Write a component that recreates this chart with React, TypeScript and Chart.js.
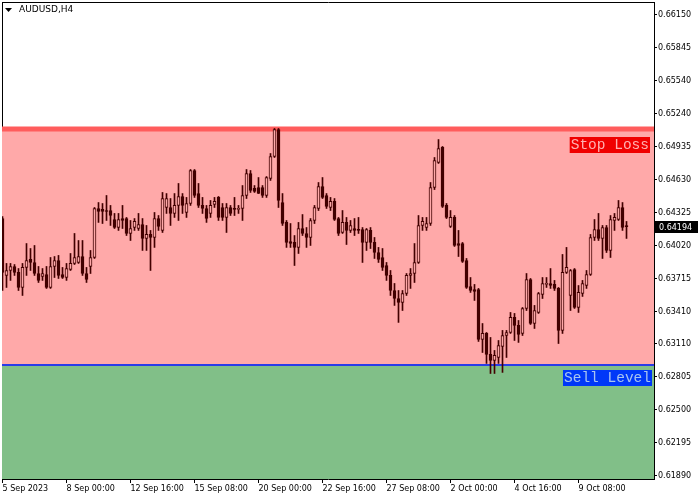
import React, { useEffect, useRef } from 'react';
import { Chart, registerables } from 'chart.js';

Chart.register(...registerables);

const SYMBOL = 'AUDUSD,H4';

const OPEN = [
  0.64269, 0.63743, 0.63789, 0.63826, 0.63771, 0.63632, 0.63817, 0.63891, 0.63863, 0.63761,
  0.63734, 0.63752, 0.63632, 0.63826, 0.63881, 0.63752, 0.63724, 0.63798, 0.63854, 0.63863,
  0.63918, 0.63761, 0.63826, 0.63909, 0.64362, 0.64353, 0.64343, 0.64343, 0.64260, 0.64186,
  0.64269, 0.64269, 0.64131, 0.64186, 0.64177, 0.64214, 0.64085, 0.64122, 0.64094, 0.64269,
  0.64159, 0.64371, 0.64371, 0.64316, 0.64390, 0.64473, 0.64325, 0.64408, 0.64713, 0.64500,
  0.64390, 0.64362, 0.64316, 0.64399, 0.64464, 0.64371, 0.64279, 0.64371, 0.64362, 0.64353,
  0.64362, 0.64482, 0.64685, 0.64547, 0.64556, 0.64556, 0.64482, 0.64639, 0.64842, 0.65092,
  0.64417, 0.64233, 0.64057, 0.64048, 0.64002, 0.64177, 0.64131, 0.64094, 0.64251, 0.64362,
  0.64565, 0.64482, 0.64371, 0.64427, 0.64269, 0.64140, 0.64233, 0.64159, 0.64177, 0.64168,
  0.64168, 0.64048, 0.64159, 0.64048, 0.63955, 0.63909, 0.63835, 0.63743, 0.63604, 0.63530,
  0.63493, 0.63576, 0.63743, 0.63761, 0.63863, 0.64205, 0.64186, 0.64223, 0.64556, 0.64787,
  0.64926, 0.64390, 0.64196, 0.64279, 0.64038, 0.64038, 0.63881, 0.63641, 0.63613, 0.63613,
  0.63151, 0.63207, 0.63013, 0.62957, 0.62985, 0.63087, 0.63188, 0.63216, 0.63355, 0.63281,
  0.63207, 0.63438, 0.63706, 0.63299, 0.63401, 0.63567, 0.63660, 0.63669, 0.63660, 0.63623,
  0.63235, 0.63771, 0.63558, 0.63798, 0.63447, 0.63576, 0.63650, 0.63752, 0.64094, 0.64168,
  0.64085, 0.64186, 0.63974, 0.64251, 0.64260, 0.64371, 0.64196,
];
const HIGH = [
  0.64288, 0.63854, 0.63854, 0.63844, 0.63807, 0.63854, 0.64038, 0.63992, 0.64020, 0.63826,
  0.63807, 0.63826, 0.63909, 0.63918, 0.63928, 0.63817, 0.63854, 0.63946, 0.64131, 0.64066,
  0.64066, 0.63817, 0.63974, 0.64371, 0.64417, 0.64408, 0.64482, 0.64390, 0.64316, 0.64316,
  0.64390, 0.64279, 0.64251, 0.64269, 0.64316, 0.64269, 0.64205, 0.64159, 0.64325, 0.64297,
  0.64510, 0.64500, 0.64454, 0.64500, 0.64593, 0.64500, 0.64464, 0.64722, 0.64722, 0.64593,
  0.64464, 0.64390, 0.64436, 0.64464, 0.64473, 0.64408, 0.64408, 0.64390, 0.64464, 0.64390,
  0.64574, 0.64722, 0.64713, 0.64574, 0.64648, 0.64574, 0.64657, 0.64870, 0.65101, 0.65101,
  0.64500, 0.64251, 0.64223, 0.64112, 0.64233, 0.64306, 0.64186, 0.64269, 0.64390, 0.64602,
  0.64648, 0.64500, 0.64464, 0.64454, 0.64279, 0.64343, 0.64279, 0.64251, 0.64269, 0.64279,
  0.64186, 0.64177, 0.64186, 0.64094, 0.64002, 0.63992, 0.63863, 0.63789, 0.63669, 0.63604,
  0.63604, 0.63761, 0.63807, 0.64038, 0.64297, 0.64279, 0.64279, 0.64602, 0.64833, 0.64999,
  0.64935, 0.64408, 0.64343, 0.64297, 0.64159, 0.64048, 0.63900, 0.63724, 0.63660, 0.63623,
  0.63299, 0.63216, 0.63170, 0.63050, 0.63142, 0.63235, 0.63235, 0.63401, 0.63392, 0.63327,
  0.63447, 0.63761, 0.63715, 0.63466, 0.63586, 0.63724, 0.63724, 0.63807, 0.63697, 0.63632,
  0.63937, 0.64002, 0.63798, 0.63807, 0.63650, 0.63697, 0.63789, 0.64122, 0.64260, 0.64316,
  0.64205, 0.64205, 0.64297, 0.64316, 0.64436, 0.64417, 0.64242,
];
const LOW = [
  0.63604, 0.63632, 0.63697, 0.63743, 0.63604, 0.63558, 0.63743, 0.63789, 0.63743, 0.63678,
  0.63697, 0.63623, 0.63623, 0.63724, 0.63715, 0.63715, 0.63697, 0.63789, 0.63844, 0.63854,
  0.63743, 0.63678, 0.63761, 0.63900, 0.64233, 0.64223, 0.64251, 0.64205, 0.64177, 0.64159,
  0.64177, 0.64112, 0.64066, 0.64159, 0.64159, 0.63974, 0.63974, 0.63789, 0.64002, 0.64159,
  0.64140, 0.64316, 0.64205, 0.64279, 0.64251, 0.64316, 0.64279, 0.64390, 0.64464, 0.64371,
  0.64316, 0.64233, 0.64279, 0.64371, 0.64251, 0.64251, 0.64140, 0.64297, 0.64297, 0.64316,
  0.64251, 0.64454, 0.64510, 0.64510, 0.64500, 0.64464, 0.64464, 0.64621, 0.64833, 0.64371,
  0.64205, 0.64002, 0.64002, 0.63835, 0.63946, 0.64112, 0.64002, 0.64020, 0.64223, 0.64343,
  0.64454, 0.64362, 0.64343, 0.64251, 0.64112, 0.64131, 0.64029, 0.64140, 0.64112, 0.64131,
  0.63863, 0.63974, 0.63992, 0.63900, 0.63863, 0.63789, 0.63697, 0.63558, 0.63466, 0.63309,
  0.63419, 0.63558, 0.63623, 0.63678, 0.63854, 0.64159, 0.64159, 0.64205, 0.64537, 0.64778,
  0.64371, 0.64269, 0.64186, 0.64011, 0.63918, 0.63863, 0.63623, 0.63586, 0.63512, 0.63133,
  0.63031, 0.62930, 0.62837, 0.62837, 0.62930, 0.62847, 0.62985, 0.63207, 0.63142, 0.63124,
  0.63188, 0.63419, 0.63290, 0.63253, 0.63392, 0.63530, 0.63632, 0.63623, 0.63604, 0.63114,
  0.63207, 0.63761, 0.63419, 0.63438, 0.63401, 0.63549, 0.63623, 0.63743, 0.64066, 0.64066,
  0.63900, 0.63955, 0.63909, 0.64159, 0.64251, 0.64159, 0.64085,
];
const CLOSE = [
  0.63771, 0.63789, 0.63826, 0.63771, 0.63632, 0.63817, 0.63881, 0.63863, 0.63761, 0.63697,
  0.63761, 0.63632, 0.63826, 0.63881, 0.63743, 0.63724, 0.63807, 0.63854, 0.63909, 0.63918,
  0.63761, 0.63706, 0.63909, 0.64362, 0.64334, 0.64334, 0.64334, 0.64297, 0.64186, 0.64260,
  0.64251, 0.64131, 0.64177, 0.64242, 0.64214, 0.64085, 0.64122, 0.64094, 0.64269, 0.64196,
  0.64454, 0.64454, 0.64316, 0.64390, 0.64473, 0.64390, 0.64408, 0.64713, 0.64482, 0.64390,
  0.64362, 0.64269, 0.64390, 0.64427, 0.64279, 0.64279, 0.64371, 0.64316, 0.64353, 0.64362,
  0.64482, 0.64685, 0.64528, 0.64519, 0.64500, 0.64482, 0.64648, 0.64842, 0.65092, 0.64436,
  0.64223, 0.64048, 0.64038, 0.64002, 0.64177, 0.64131, 0.64094, 0.64251, 0.64371, 0.64565,
  0.64464, 0.64380, 0.64427, 0.64260, 0.64131, 0.64233, 0.64159, 0.64205, 0.64159, 0.64159,
  0.64048, 0.64168, 0.64048, 0.63955, 0.63891, 0.63817, 0.63743, 0.63604, 0.63530, 0.63493,
  0.63576, 0.63743, 0.63761, 0.63863, 0.64205, 0.64242, 0.64223, 0.64556, 0.64805, 0.64916,
  0.64380, 0.64279, 0.64279, 0.64020, 0.64020, 0.63872, 0.63632, 0.63604, 0.63595, 0.63151,
  0.63207, 0.63013, 0.62957, 0.63004, 0.63096, 0.63188, 0.63216, 0.63355, 0.63281, 0.63198,
  0.63438, 0.63706, 0.63299, 0.63419, 0.63576, 0.63669, 0.63669, 0.63650, 0.63623, 0.63235,
  0.63771, 0.63817, 0.63789, 0.63447, 0.63586, 0.63669, 0.63752, 0.64094, 0.64168, 0.64085,
  0.64186, 0.63974, 0.64260, 0.64279, 0.64371, 0.64186, 0.64194,
];

const TICK_BARS = [0, 16, 32, 48, 64, 80, 96, 112, 128, 144];
const TIME_LABELS = [
  '5 Sep 2023', '8 Sep 00:00', '12 Sep 16:00', '15 Sep 08:00', '20 Sep 00:00',
  '22 Sep 16:00', '27 Sep 08:00', '2 Oct 00:00', '4 Oct 16:00', '9 Oct 08:00',
];
const PRICE_TICKS = [
  0.6615, 0.65845, 0.6554, 0.6524, 0.64935, 0.6463, 0.64325, 0.6402,
  0.63715, 0.6341, 0.6311, 0.62805, 0.625, 0.62195, 0.6189,
];

const STOP_LOSS = 0.65097;
const SELL_LEVEL = 0.62916;
const STOP_LOSS_TEXT = 'Stop Loss';
const SELL_LEVEL_TEXT = 'Sell Level';

const Y_MIN = 0.61862;
const Y_MAX = 0.6627;
const X_MIN = -0.125;
const X_MAX = 162.875;

const CANDLE = '#420000';
const ZONE_RED = '#FFA9A9';
const ZONE_GREEN = '#81BF88';
const SL_LINE = '#FF5C5C';
const SELL_LINE = '#2A3CE8';
const FONT = '"DejaVu Sans", Verdana, sans-serif';
const MONO = '"Liberation Mono", "Courier New", monospace';

const noPad = (s: any) => {
  s.paddingTop = 0;
  s.paddingBottom = 0;
  s.paddingLeft = 0;
  s.paddingRight = 0;
};

const overlayPlugin = {
  id: 'overlay',
  afterDraw(chart: any) {
    const { ctx, chartArea, scales } = chart;
    const y = scales.y;
    ctx.save();
    // symbol title
    ctx.fillStyle = '#000';
    ctx.beginPath();
    ctx.moveTo(chartArea.left + 3, chartArea.top + 6);
    ctx.lineTo(chartArea.left + 10, chartArea.top + 6);
    ctx.lineTo(chartArea.left + 6.5, chartArea.top + 10);
    ctx.closePath();
    ctx.fill();
    ctx.font = `9px ${FONT}`;
    ctx.textAlign = 'left';
    ctx.textBaseline = 'middle';
    ctx.fillText(SYMBOL, chartArea.left + 17, chartArea.top + 8);

    const tag = (text: string, top: number, right: number, bg: string, fg: string) => {
      ctx.font = `14.5px ${MONO}`;
      const w = ctx.measureText(text).width;
      ctx.fillStyle = bg;
      ctx.fillRect(right - w - 2, top, w + 2, 16);
      ctx.fillStyle = fg;
      ctx.textAlign = 'right';
      ctx.textBaseline = 'middle';
      ctx.fillText(text, right - 1, top + 8.5);
    };
    tag(STOP_LOSS_TEXT, Math.round(y.getPixelForValue(STOP_LOSS)) + 8, chartArea.right - 4, '#F00000', '#FFB0B0');
    tag(SELL_LEVEL_TEXT, Math.round(y.getPixelForValue(SELL_LEVEL)) + 5, chartArea.right - 2, '#0038F8', '#A8C4F0');

    // current price tag
    const last = CLOSE[CLOSE.length - 1];
    const yc = Math.round(y.getPixelForValue(last));
    ctx.fillStyle = '#000';
    ctx.fillRect(chartArea.right + 1, yc - 6, 43, 12);
    ctx.fillStyle = '#fff';
    ctx.font = `8px ${FONT}`;
    ctx.textAlign = 'left';
    ctx.textBaseline = 'middle';
    ctx.fillText(last.toFixed(5), chartArea.right + 5, yc + 0.5);
    ctx.restore();
  },
};

export default function App() {
  const canvasRef = useRef<HTMLCanvasElement | null>(null);

  useEffect(() => {
    const canvas = canvasRef.current;
    if (!canvas) return;
    const bodyData = OPEN.map((o, i) => ({ x: i, y: [o, CLOSE[i]] }));
    const wickData = OPEN.map((_, i) => ({ x: i, y: [LOW[i], HIGH[i]] }));
    const bodyFill = OPEN.map((o, i) => (CLOSE[i] >= o ? ZONE_RED : CANDLE));

    const chart = new Chart(canvas, {
      type: 'bar',
      data: {
        datasets: [
          {
            type: 'bar',
            data: bodyData as any,
            backgroundColor: bodyFill,
            borderColor: CANDLE,
            borderWidth: 1,
            borderSkipped: false,
            barThickness: 3,
            grouped: false,
            minBarLength: 1,
            xAxisID: 'x',
            yAxisID: 'y',
            order: 1,
          } as any,
          {
            type: 'bar',
            data: wickData as any,
            backgroundColor: CANDLE,
            borderWidth: 0,
            barThickness: 1,
            grouped: false,
            xAxisID: 'x',
            yAxisID: 'y',
            order: 2,
          } as any,
          {
            type: 'line',
            data: [{ x: X_MIN, y: SELL_LEVEL }, { x: X_MAX, y: SELL_LEVEL }],
            borderColor: SELL_LINE,
            borderWidth: 2,
            fill: 'start',
            backgroundColor: ZONE_GREEN,
            pointRadius: 0,
            tension: 0,
            xAxisID: 'x',
            yAxisID: 'y',
            order: 3,
          } as any,
          {
            type: 'line',
            data: [{ x: X_MIN, y: STOP_LOSS }, { x: X_MAX, y: STOP_LOSS }],
            borderColor: SL_LINE,
            borderWidth: 5,
            fill: { value: SELL_LEVEL },
            backgroundColor: ZONE_RED,
            pointRadius: 0,
            tension: 0,
            xAxisID: 'x',
            yAxisID: 'y',
            order: 4,
          } as any,
        ],
      },
      options: {
        animation: false,
        responsive: false,
        maintainAspectRatio: false,
        events: [],
        layout: { autoPadding: false, padding: { left: 2, top: 2, right: 0, bottom: 0 } },
        plugins: { legend: { display: false }, tooltip: { enabled: false }, title: { display: false } },
        scales: {
          x: {
            type: 'linear',
            position: 'bottom',
            min: X_MIN,
            max: X_MAX,
            offset: false,
            grid: { display: true, drawOnChartArea: false, drawTicks: true, tickLength: 4, color: '#000', offset: false },
            border: { display: true, color: '#000', width: 1 },
            ticks: {
              autoSkip: false,
              maxRotation: 0,
              minRotation: 0,
              align: 'start',
              padding: 1,
              color: '#000',
              font: { family: FONT, size: 8 },
              callback: (v: any) => {
                const k = TICK_BARS.indexOf(Number(v));
                return k >= 0 ? TIME_LABELS[k] : '';
              },
            },
            afterBuildTicks: (s: any) => {
              s.min = X_MIN;
              s.max = X_MAX;
              s.ticks = TICK_BARS.map((v) => ({ value: v }));
            },
            afterFit: (s: any) => {
              s.height = 21;
              noPad(s);
            },
          },
          xt: {
            type: 'linear',
            position: 'top',
            min: 0,
            max: 1,
            grid: { display: false, drawTicks: false },
            ticks: { display: false },
            border: { display: true, color: '#000', width: 1 },
            afterFit: (s: any) => {
              s.height = 0;
              noPad(s);
            },
          },
          y: {
            type: 'linear',
            position: 'right',
            min: Y_MIN,
            max: Y_MAX,
            beginAtZero: false,
            grid: { display: true, drawOnChartArea: false, drawTicks: true, tickLength: 3, color: '#000' },
            border: { display: true, color: '#000', width: 1 },
            ticks: {
              autoSkip: false,
              padding: 1,
              color: '#000',
              font: { family: FONT, size: 8 },
              callback: (v: any) => Number(v).toFixed(5),
            },
            afterBuildTicks: (s: any) => {
              s.min = Y_MIN;
              s.max = Y_MAX;
              s.ticks = PRICE_TICKS.map((v) => ({ value: v }));
            },
            afterFit: (s: any) => {
              s.width = 46;
              noPad(s);
            },
          },
          yl: {
            type: 'linear',
            position: 'left',
            min: 0,
            max: 1,
            grid: { display: false, drawTicks: false },
            ticks: { display: false },
            border: { display: true, color: '#000', width: 1 },
            afterFit: (s: any) => {
              s.width = 0;
              noPad(s);
            },
          },
        } as any,
      },
      plugins: [overlayPlugin],
    });
    return () => chart.destroy();
  }, []);

  return (
    <div style={{ position: 'fixed', left: 0, top: 0, width: 700, height: 500, background: '#fff' }}>
      <canvas ref={canvasRef} width={700} height={500} style={{ display: 'block' }} />
    </div>
  );
}
